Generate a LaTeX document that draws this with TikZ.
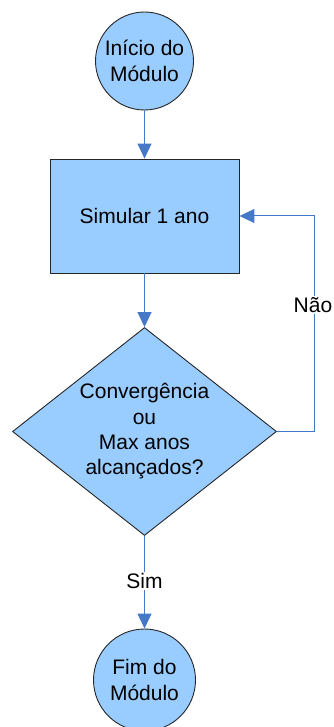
\documentclass[tikz,border=0pt]{standalone}
\usepackage{fontspec}
\setmainfont{Liberation Sans}
\usetikzlibrary{shapes.geometric,arrows.meta}
\definecolor{boxfill}{HTML}{99CCFF}
\definecolor{conn}{RGB}{70,120,200}
\begin{document}
\begin{tikzpicture}[x=1pt,y=-1pt,
  every node/.style={font=\fontsize{21}{25.3}\selectfont, align=center, text=black},
  shapebox/.style={draw=black!85, line width=0.9pt, fill=boxfill, inner sep=0pt},
  term/.style={shapebox, circle, minimum size=98pt},
  procbox/.style={shapebox, rectangle, minimum width=189pt, minimum height=114pt},
  decision/.style={shapebox, diamond, aspect=1.269, minimum width=264pt, minimum height=208pt},
  arr/.style={draw=conn, line width=1pt, -{Triangle[width=14pt,length=15pt]}},
  lbl/.style={fill=white, inner sep=1pt}]
\useasboundingbox (0,0) rectangle (334,727);
\node[term] (start) at (144.5,61) {Início do\\Módulo};
\node[procbox] (sim) at (144.5,216) {Simular 1 ano};
\node[decision] (dec) at (144.5,431.5) {Convergência\\ou\\Max anos\\alcançados?};
\node[term, minimum size=102pt] (end) at (144.5,680) {Fim do\\Módulo};
\coordinate (k) at (314,216);
\draw[arr] (start) -- (sim);
\draw[arr] (sim) -- (dec);
\draw[arr] (dec) -- (end);
\draw[arr] (dec.east) -| (k) -- (sim.east);
\node[lbl] (nao) at (313,305) {Não};
\node[lbl] (simlbl) at (144.5,581) {Sim};
\end{tikzpicture}
\end{document}
